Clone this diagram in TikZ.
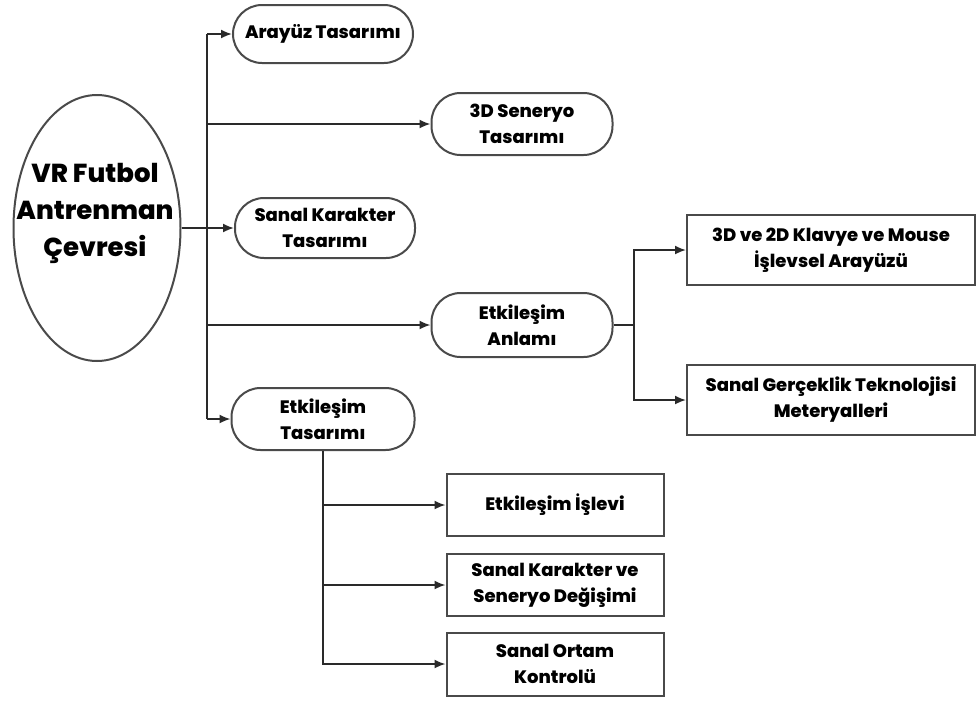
\documentclass[tikz,border=0pt]{standalone}
\usepackage{fontspec}
\setmainfont{Poppins}[BoldFont={Poppins ExtraBold}]
\usetikzlibrary{shapes.geometric,arrows.meta}
\definecolor{edge}{HTML}{4A4A4A}
\definecolor{conn}{HTML}{2A2A2A}
\tikzset{
  pill/.style={draw=edge, line width=2pt, rectangle, rounded corners=29pt, inner sep=0pt,
    align=center, font=\fontsize{18}{26}\selectfont\bfseries},
  sqbox/.style={draw=edge, line width=2pt, rectangle, inner sep=0pt,
    align=center, font=\fontsize{18}{26}\selectfont\bfseries},
  conline/.style={draw=conn, line width=1.8pt},
  arr/.style={conline, -{Latex[length=11pt,width=9pt]}},
}
\begin{document}
\begin{tikzpicture}[x=1pt,y=-1pt]
\useasboundingbox (0,0) rectangle (977,702);
\fill[white] (0,0) rectangle (977,702);

% root
\node[draw=edge, line width=2pt, ellipse, minimum width=167pt, minimum height=266pt, inner sep=0pt] (root) at (97,228) {};
\node[align=center, font=\fontsize{26}{37}\selectfont\bfseries] (rootlabel) at (95,213) {VR Futbol\\Antrenman\\Çevresi};

% first level
\node[pill, minimum width=180pt, minimum height=58pt] (a1) at (323,34) {Arayüz Tasarımı};
\node[pill, minimum width=181pt, minimum height=62pt] (a2) at (522,124) {3D Seneryo\\Tasarımı};
\node[pill, minimum width=180pt, minimum height=60pt] (a3) at (325,228) {Sanal Karakter\\Tasarımı};
\node[pill, minimum width=181pt, minimum height=64pt] (a4) at (522,325) {Etkileşim\\Anlamı};
\node[pill, minimum width=183pt, minimum height=62pt] (a5) at (323,419) {Etkileşim\\Tasarımı};

% right boxes
\node[sqbox, minimum width=288pt, minimum height=70pt] (b1) at (831,250) {3D ve 2D Klavye ve Mouse\\İşlevsel Arayüzü};
\node[sqbox, minimum width=288pt, minimum height=70pt] (b2) at (831,400) {Sanal Gerçeklik Teknolojisi\\Meteryalleri};

% bottom boxes
\node[sqbox, minimum width=217pt, minimum height=62pt] (c1) at (555,505) {Etkileşim İşlevi};
\node[sqbox, minimum width=217pt, minimum height=62pt] (c2) at (555,585) {Sanal Karakter ve\\Seneryo Değişimi};
\node[sqbox, minimum width=217pt, minimum height=63pt] (c3) at (555,664) {Sanal Ortam\\Kontrolü};

% main trunk
\coordinate (j1) at (207,228);
\draw[conline] (j1 |- a1.west) -- (j1 |- a5.west);
\draw[arr] (root.east) -- (a3.west);
\draw[arr] (j1 |- a1.west) -- (a1.west);
\draw[arr] (j1 |- a2.west) -- (a2.west);
\draw[arr] (j1 |- a4.west) -- (a4.west);
\draw[arr] (j1 |- a5.west) -- (a5.west);

% Etkileşim Anlamı branch
\coordinate (j2) at (634,325);
\draw[conline] (a4.east) -- (j2);
\draw[arr] (j2) |- (b1.west);
\draw[arr] (j2) |- (b2.west);

% Etkileşim Tasarımı branch
\draw[arr] (a5.south) |- (c1.west);
\draw[arr] (a5.south) |- (c2.west);
\draw[arr] (a5.south) |- (c3.west);
\end{tikzpicture}
\end{document}
